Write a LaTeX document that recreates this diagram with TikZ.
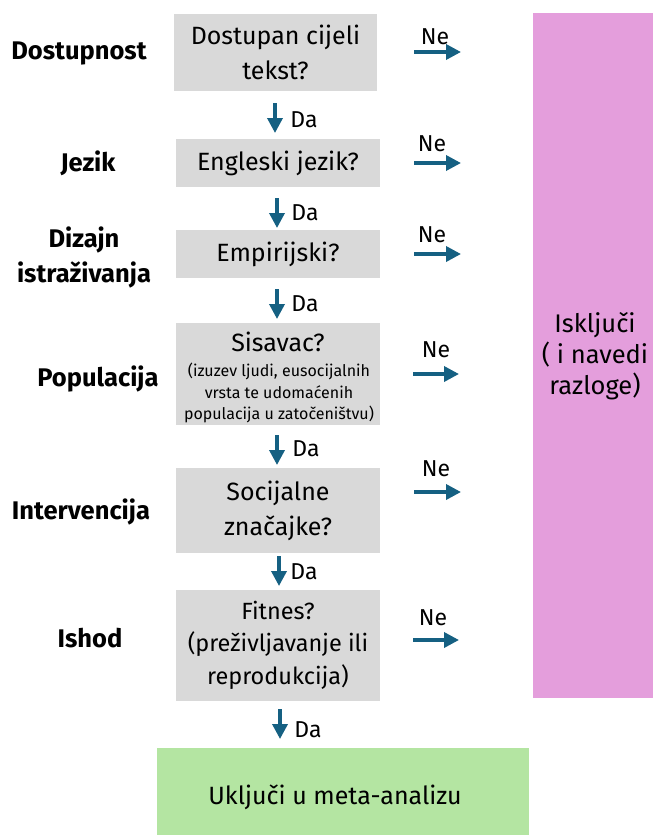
\documentclass[tikz,border=0pt]{standalone}
\usepackage{fontspec}
\setmainfont{Fira Sans}
\usetikzlibrary{arrows.meta}
\definecolor{boxgray}{HTML}{D9D9D9}
\definecolor{pinkbox}{HTML}{E49EDC}
\definecolor{greenbox}{HTML}{B4E5A2}
\definecolor{arrowblue}{HTML}{156082}
\tikzset{
  qbox/.style={fill=boxgray, inner sep=0pt, align=center, font=\fontsize{25}{35}\selectfont},
  sidelabel/.style={inner sep=0pt, align=center, font=\fontsize{25.5}{35}\bfseries\selectfont},
  nelabel/.style={inner sep=0pt, font=\fontsize{23}{26}\selectfont},
  dalabel/.style={inner sep=0pt, font=\fontsize{23}{26}\selectfont},
  flowarrow/.style={draw=arrowblue, line width=3.5pt, -{Triangle[length=15pt,width=15pt]}}
}
\begin{document}
\begin{tikzpicture}[x=1pt,y=-1pt]
\useasboundingbox (0,0) rectangle (653,835);

% exclude box
\node[fill=pinkbox, minimum width=120pt, minimum height=685pt, inner sep=0pt] (excl) at (593,355.5) {};
\node[inner sep=0pt, align=center, font=\fontsize{25.5}{31}\selectfont] (excltext) at (595,356) {Isključi\\( i navedi\\razloge)};

% question boxes
\node[qbox, minimum width=203pt, minimum height=77pt] (b1) at (275.5,52.5) {Dostupan cijeli\\tekst?};
\node[qbox, minimum width=204pt, minimum height=48pt] (b2) at (278,163) {Engleski jezik?};
\node[qbox, minimum width=204pt, minimum height=48pt] (b3) at (278,254) {Empirijski?};
\node[qbox, minimum width=204pt, minimum height=102pt] (b4) at (278,374) {};
\node[inner sep=0pt, align=center, font=\fontsize{25}{29}\selectfont] (b4t) at (278,342) {Sisavac?};
\node[inner sep=0pt, align=center, font=\fontsize{16}{21.5}\selectfont] (b4s) at (279,393) {(izuzev ljudi, eusocijalnih\\vrsta te udomaćenih\\populacija u zatočeništvu)};
\node[qbox, minimum width=204pt, minimum height=85pt] (b5) at (278,510.5) {Socijalne\\značajke?};
\node[qbox, minimum width=204pt, minimum height=111pt, font=\fontsize{23.5}{32.5}\selectfont] (b6) at (278,645) {Fitnes?\\(preživljavanje ili\\reprodukcija)};

% include box
\node[fill=greenbox, minimum width=372pt, minimum height=87pt, inner sep=0pt] (incl) at (343,791.5) {};
\node[inner sep=0pt, font=\fontsize{25}{28}\selectfont] (incltext) at (335,797) {Uključi u meta-analizu};

% side labels
\node[sidelabel] (l1) at (79,53) {Dostupnost};
\node[sidelabel] (l2) at (88,163) {Jezik};
\node[sidelabel] (l3) at (84,257) {Dizajn\\istraživanja};
\node[sidelabel] (l4) at (98,379) {Populacija};
\node[sidelabel] (l5) at (81,512) {Intervencija};
\node[sidelabel] (l6) at (90,638) {Ishod};

% Da arrows
\coordinate (d1s) at (275,103); \coordinate (d1e) at (275,133);
\coordinate (d2s) at (277,198); \coordinate (d2e) at (277,228);
\coordinate (d3s) at (277,289); \coordinate (d3e) at (277,319);
\coordinate (d4s) at (277,435); \coordinate (d4e) at (277,465);
\coordinate (d5s) at (279,556); \coordinate (d5e) at (279,586);
\coordinate (d6s) at (280,709); \coordinate (d6e) at (280,739);
\foreach \i in {1,...,6} {\draw[flowarrow] (d\i s) -- (d\i e);}
\node[dalabel] (da1) at (304,120) {Da};
\node[dalabel] (da2) at (305,213) {Da};
\node[dalabel] (da3) at (305,304) {Da};
\node[dalabel] (da4) at (306,449) {Da};
\node[dalabel] (da5) at (304,572) {Da};
\node[dalabel] (da6) at (308,730) {Da};

% Ne arrows
\coordinate (n1s) at (414,52);  \coordinate (n1e) at (461,52);
\coordinate (n2s) at (414,163); \coordinate (n2e) at (461,163);
\coordinate (n3s) at (414,254); \coordinate (n3e) at (461,254);
\coordinate (n4s) at (413,374); \coordinate (n4e) at (459,374);
\coordinate (n5s) at (414,492); \coordinate (n5e) at (461,492);
\coordinate (n6s) at (413,640); \coordinate (n6e) at (459,640);
\foreach \i in {1,...,6} {\draw[flowarrow] (n\i s) -- (n\i e);}
\node[nelabel] (ne1) at (435,37) {Ne};
\node[nelabel] (ne2) at (432,144) {Ne};
\node[nelabel] (ne3) at (432,235) {Ne};
\node[nelabel] (ne4) at (436,350) {Ne};
\node[nelabel] (ne5) at (436,469) {Ne};
\node[nelabel] (ne6) at (433,618) {Ne};
\end{tikzpicture}
\end{document}
